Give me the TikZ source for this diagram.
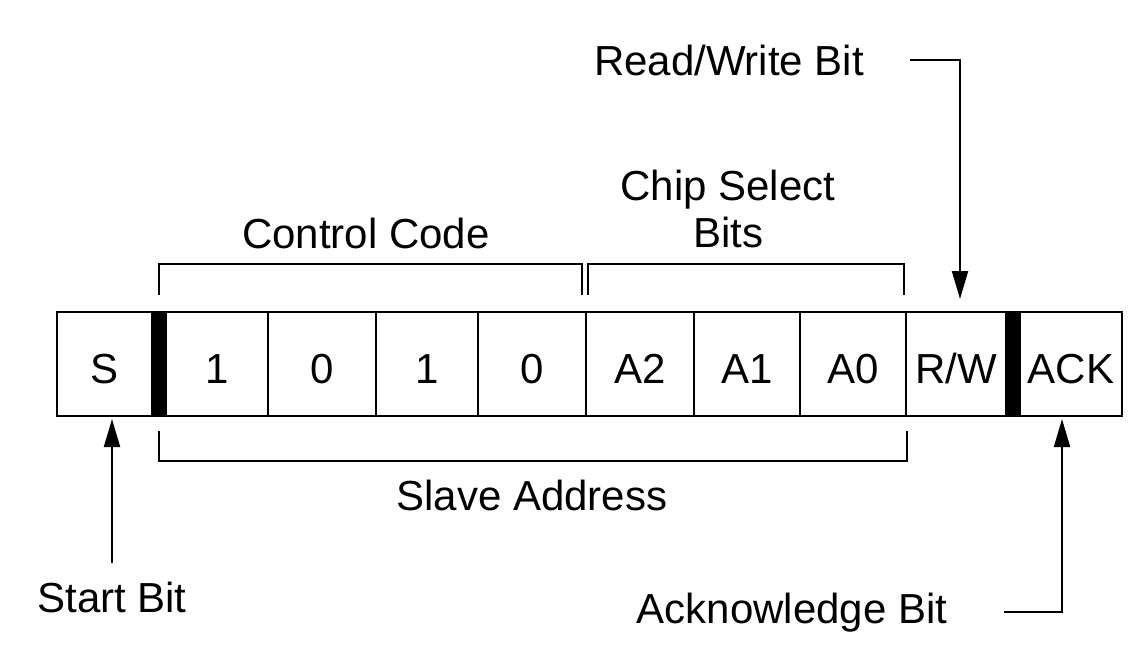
\documentclass[tikz,border=0pt]{standalone}
\usepackage{fontspec}
\setmainfont{Liberation Sans}
\usetikzlibrary{arrows.meta}
\colorlet{frame edge}{black}
\tikzset{
  cell/.style={draw=frame edge, line width=1pt, minimum height=52pt, inner sep=0pt,
    text height=19pt, text depth=0pt},
  sepbar/.style={fill=frame edge, minimum height=53pt, minimum width=7pt, inner sep=0pt},
  lbl/.style={inner sep=0pt},
  bracket/.style={draw=frame edge, line width=1pt},
  pointer/.style={draw=frame edge, line width=1pt, -{Triangle[length=14pt, width=8pt]}}
}

\begin{document}
\begin{tikzpicture}[x=0.5pt, y=-0.5pt, font=\fontsize{21}{23.5}\selectfont]
    \useasboundingbox (0,0) rectangle (1140,649);
    % the address byte
    \foreach \l/\r/\t [count=\i] in {57/152/S, 166/268/1, 268/376/0, 376/478/1,
        478/586/0, 586/694/A2, 694/800/A1, 800/906/A0, 906/1006/{R/W}, 1020/1122/ACK}
      \node[cell, minimum width={(\r-\l)*0.5pt}] (c\i) at ({(\l+\r)/2},364) {\t};
    \node[sepbar] (bar1) at (159,364) {};
    \node[sepbar] (bar2) at (1013,364) {};
    % brackets
    \draw[bracket] ([yshift=8pt]bar1.north) -- ++(0,-31)
      -| ([xshift=-1.5pt, yshift=8pt]c6.north west);
    \draw[bracket] ([xshift=1.5pt, yshift=8pt]c6.north west) -- ++(0,-31)
      -| ([xshift=-1.5pt, yshift=8pt]c8.north east);
    \draw[bracket] ([yshift=-7pt]bar1.south) -- ++(0,30)
      -| ([yshift=-7pt]c8.south east);
    % labels
    \node[lbl, anchor=base] (ctrl) at (366,248) {Control Code};
    \node[lbl, anchor=north, align=center] (chip) at (728,170) {Chip Select\\Bits};
    \node[lbl, anchor=base] (slave) at (532,510) {Slave Address};
    \node[lbl, anchor=base] (start) at (112,612) {Start Bit};
    \node[lbl, anchor=base] (ack) at (792,623) {Acknowledge Bit};
    \node[lbl, anchor=base] (rw) at (729,75) {Read/Write Bit};
    % pointers
    \draw[pointer] ([yshift=9pt]start.north) -- ([yshift=-1pt]start.north |- c1.south);
    \draw[pointer] ([xshift=23pt]rw.east) -| ([xshift=2pt, yshift=6pt]c9.north);
    \draw[pointer] ([xshift=28pt]ack.east) -| ([xshift=-4.5pt, yshift=-1pt]c10.south);
\end{tikzpicture}
\end{document}
